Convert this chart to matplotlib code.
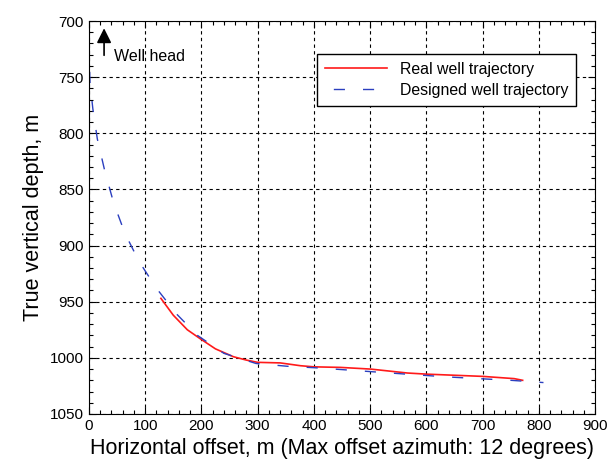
import matplotlib
matplotlib.use("Agg")
import matplotlib.pyplot as plt
from matplotlib.ticker import MultipleLocator

plt.rcParams["font.family"] = ["Liberation Sans", "DejaVu Sans"]

# designed trajectory (blue dashed)
design_x = [0, 1, 2, 7, 15, 28, 44, 64, 89, 120, 156, 193, 240, 297, 353,
            408, 465, 522, 578, 638, 693, 750, 808]
design_tvd = [712, 740, 755, 778, 805, 833, 862, 889, 914, 938, 961, 980, 996,
              1005, 1007.5, 1009, 1011, 1013, 1015, 1017, 1018.5, 1020, 1022]

# real trajectory (red)
real_x = [128, 150, 175, 198, 225, 257, 280, 300, 340, 376, 400, 447, 501,
          566, 600, 700, 756, 771]
real_tvd = [947, 962, 975, 983, 992, 999, 1002, 1004, 1004.5, 1007, 1008,
            1008.5, 1010, 1013.5, 1014.5, 1016.5, 1018.5, 1020]

fig = plt.figure(figsize=(6.13, 4.67), dpi=100)
ax = fig.add_axes([0.145, 0.1135, 0.826, 0.8415])

ax.plot(real_x, real_tvd, color="#ff1a1a", lw=1.2, label="Real well trajectory")
ax.plot(design_x, design_tvd, color="#2b3fbf", lw=1.0, linestyle=(15, (8, 13)),
        label="Designed well trajectory")

ax.set_xlim(0, 900)
ax.set_ylim(1050, 700)
ax.xaxis.set_major_locator(MultipleLocator(100))
ax.xaxis.set_minor_locator(MultipleLocator(20))
ax.yaxis.set_major_locator(MultipleLocator(50))
ax.yaxis.set_minor_locator(MultipleLocator(10))
ax.tick_params(which="both", direction="in", top=True, right=True, labelsize=11,
               width=0.8)
ax.tick_params(which="major", length=5)
ax.tick_params(which="minor", length=3)
ax.grid(True, which="major", color="black", lw=0.8, linestyle=(0, (3, 3)))

ax.set_xlabel("Horizontal offset, m (Max offset azimuth: 12 degrees)", fontsize=15.5,
              labelpad=4)
ax.set_ylabel("True vertical depth, m", fontsize=15.5)

ax.annotate("", xy=(27, 704), xytext=(27, 733),
            arrowprops=dict(arrowstyle="-|>", color="black", lw=1.2,
                            mutation_scale=22))
ax.text(44, 732, "Well head", fontsize=11.5, va="center")

leg = ax.legend(loc="upper right", bbox_to_anchor=(0.978, 0.937), fontsize=11.4,
                fancybox=False, edgecolor="black", framealpha=1,
                handlelength=3.9, borderpad=0.5, labelspacing=0.4)
leg.get_frame().set_linewidth(1.0)

fig.savefig("out.png", dpi=100)
